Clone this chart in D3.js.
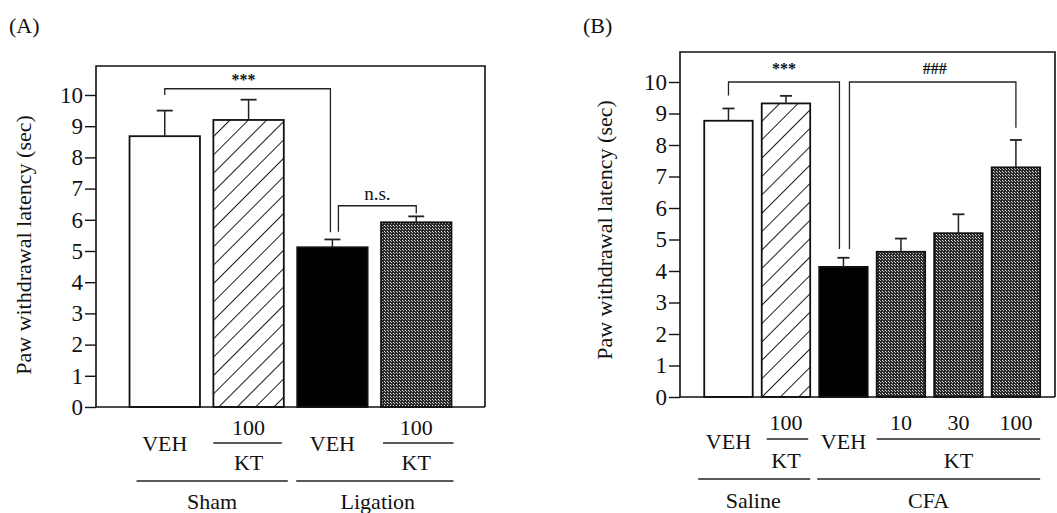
<!DOCTYPE html>
<html>
<head>
<meta charset="utf-8">
<script src="https://cdn.jsdelivr.net/npm/d3@7"></script>
<style>
  html, body { margin: 0; padding: 0; background: #fff; }
  text { font-family: "Liberation Serif", "Times New Roman", serif; fill: #111; }
</style>
</head>
<body>
<div id="chart"></div>
<script>
// panel A : nerve ligation
const meansA = [8.68, 9.2, 5.12, 5.92];
const errA = [0.82, 0.65, 0.25, 0.19];
const fillsA = ["white", "hatch", "black", "dots"];
const doseA = ["VEH", "100", "VEH", "100"];
const groupsA = ["Sham", "Ligation"];

// panel B : CFA inflammation
const meansB = [8.77, 9.32, 4.13, 4.61, 5.2, 7.29];
const errB = [0.39, 0.24, 0.29, 0.42, 0.6, 0.87];
const fillsB = ["white", "hatch", "black", "dots", "dots", "dots"];
const doseB = ["VEH", "100", "VEH", "10", "30", "100"];
const groupsB = ["Saline", "CFA"];

const yTicks = d3.range(0, 11);

const W = 1057, H = 513;
const svg = d3.select("#chart").append("svg")
  .attr("width", W).attr("height", H)
  .style("background", "#fff");

const defs = svg.append("defs");
const hatch = defs.append("pattern")
  .attr("id", "hatch")
  .attr("patternUnits", "userSpaceOnUse")
  .attr("width", 13).attr("height", 13)
  .attr("patternTransform", "rotate(45)");
hatch.append("rect").attr("width", 13).attr("height", 13).attr("fill", "#fff");
hatch.append("line")
  .attr("x1", 0).attr("y1", 0).attr("x2", 0).attr("y2", 13)
  .attr("stroke", "#111").attr("stroke-width", 1.9);

const dots = defs.append("pattern")
  .attr("id", "dots")
  .attr("patternUnits", "userSpaceOnUse")
  .attr("width", 3).attr("height", 3);
dots.append("rect").attr("width", 3).attr("height", 3).attr("fill", "#2a2a2a");
dots.append("rect").attr("x", 0).attr("y", 0).attr("width", 1).attr("height", 1).attr("fill", "#e8e8e8");
dots.append("rect").attr("x", 1).attr("y", 1).attr("width", 1).attr("height", 1).attr("fill", "#bbb");

const fillOf = f => f === "hatch" ? "url(#hatch)" : f === "dots" ? "url(#dots)" : f;

function drawPanel(p) {
  const g = svg.append("g");

  const x = d3.scaleBand()
    .domain(d3.range(p.means.length))
    .range([p.left, p.right])
    .paddingInner(p.inner)
    .paddingOuter(p.outer)
    .align(p.align);
  const y = d3.scaleLinear().domain([0, 10]).range([p.bottom, p.y10]);
  const bw = x.bandwidth();
  const cx = i => x(i) + bw / 2;

  // panel letter
  g.append("text").attr("x", p.letterX).attr("y", 33)
    .style("font-size", "22px").text(p.letter);

  // frame
  g.append("path")
    .attr("d", `M${p.left},${p.bottom}V${p.top}H${p.right}V${p.bottom}`)
    .attr("fill", "none").attr("stroke", "#111").attr("stroke-width", 1.6);

  // bars
  g.selectAll("rect.bar").data(p.means).join("rect")
    .attr("class", "bar")
    .attr("x", (d, i) => x(i))
    .attr("y", d => y(d))
    .attr("width", bw)
    .attr("height", d => y(0) - y(d))
    .attr("fill", (d, i) => fillOf(p.fills[i]))
    .attr("stroke", "#111").attr("stroke-width", 1.8);

  // error bars (upper only)
  const eb = g.selectAll("g.err").data(p.means).join("g").attr("class", "err");
  eb.append("line")
    .attr("x1", (d, i) => cx(i)).attr("x2", (d, i) => cx(i))
    .attr("y1", d => y(d)).attr("y2", (d, i) => y(d + p.err[i]))
    .attr("stroke", "#222").attr("stroke-width", 1.5);
  eb.append("line")
    .attr("x1", (d, i) => cx(i) - p.cap).attr("x2", (d, i) => cx(i) + p.cap)
    .attr("y1", (d, i) => y(d + p.err[i])).attr("y2", (d, i) => y(d + p.err[i]))
    .attr("stroke", "#222").attr("stroke-width", 1.8);

  // y axis
  const ax = g.append("g")
    .attr("transform", `translate(${p.left},0)`)
    .call(d3.axisLeft(y).tickValues(yTicks).tickFormat(d3.format("d")).tickSize(11).tickPadding(2));
  ax.select(".domain").remove();
  ax.selectAll("line").attr("stroke", "#111").attr("stroke-width", 1.4);
  ax.selectAll("text")
    .style("font-family", "'Liberation Serif', serif")
    .style("font-size", "23px").attr("fill", "#111");
  // baseline
  g.append("line").attr("x1", p.left).attr("x2", p.right)
    .attr("y1", p.bottom).attr("y2", p.bottom)
    .attr("stroke", "#111").attr("stroke-width", 1.6);

  g.append("text")
    .attr("transform", `translate(${p.titleX},${p.titleY}) rotate(-90)`)
    .attr("text-anchor", "middle")
    .style("font-size", "22px")
    .text("Paw withdrawal latency (sec)");

  // brackets
  p.brackets.forEach(b => {
    const xa = cx(b.from) + b.dxa, xb = cx(b.to) + b.dxb;
    g.append("path")
      .attr("d", `M${xa},${y(b.ya)}V${y(b.y)}H${xb}V${y(b.yb)}`)
      .attr("fill", "none").attr("stroke", "#222").attr("stroke-width", 1.3);
    g.append("text")
      .attr("x", (xa + xb) / 2 + (b.tdx || 0)).attr("y", y(b.y) - b.tdy)
      .attr("text-anchor", "middle")
      .style("font-size", b.size + "px").style("font-weight", b.bold ? "bold" : "normal")
      .text(b.label);
  });

  // category labels
  const lab = (tx, ty, t, size) => g.append("text")
    .attr("x", tx).attr("y", ty).attr("text-anchor", "middle")
    .attr("dominant-baseline", "central")
    .style("font-size", (size || 22) + "px").text(t);
  const hline = (x1, x2, yy) => g.append("line")
    .attr("x1", x1).attr("x2", x2).attr("y1", yy).attr("y2", yy)
    .attr("stroke", "#222").attr("stroke-width", 1.3);

  p.dose.forEach((d, i) => {
    if (d === "VEH") lab(cx(i), p.bottom + p.oVeh, d);
    else lab(cx(i), p.bottom + p.oDose, d);
  });
  p.kt.forEach(k => {
    hline(x(k[0]) + k[2], x(k[1]) + bw + k[3], p.bottom + p.oLine);
    lab((x(k[0]) + x(k[1]) + bw) / 2 + (k[4] || 0), p.bottom + p.oKT, "KT");
  });
  p.groups.forEach((gr, j) => {
    const s = p.groupSpans[j];
    const x1 = x(s[0]) + s[2], x2 = x(s[1]) + bw + s[3];
    hline(x1, x2, p.bottom + p.oGroup);
    lab((x1 + x2) / 2 + (s[4] || 0), p.bottom + p.oGroupLab, gr);
  });
}

drawPanel({
  letter: "(A)", letterX: 9,
  means: meansA, err: errA, fills: fillsA, dose: doseA, groups: groupsA,
  left: 96, right: 485, top: 66, bottom: 407, y10: 95,
  inner: 0.16, outer: 0.4, align: 0.5, cap: 8,
  titleX: 31, titleY: 245,
  brackets: [
    { from: 0, to: 2, dxa: 0, dxb: -2, y: 10.2, ya: 10.0, yb: 5.6, label: "***", size: 16, bold: true, tdy: 4, tdx: -4 },
    { from: 2, to: 3, dxa: 6, dxb: 0, y: 6.45, ya: 5.62, yb: 6.2, label: "n.s.", size: 19, tdy: 6 }
  ],
  kt: [[1, 1, 0, -2], [3, 3, 2, 2]],
  groupSpans: [[0, 1, 7, 4], [2, 3, -1, 2, 3]],
  oVeh: 36, oDose: 20, oLine: 36, oKT: 55, oGroup: 74, oGroupLab: 94
});

drawPanel({
  letter: "(B)", letterX: 583,
  means: meansB, err: errB, fills: fillsB, dose: doseB, groups: groupsB,
  left: 680, right: 1055, top: 52, bottom: 397, y10: 82,
  inner: 0.157, outer: 0.34, align: 0.62, cap: 6,
  titleX: 612, titleY: 230,
  brackets: [
    { from: 0, to: 2, dxa: 0, dxb: -4, y: 10.0, ya: 9.57, yb: 4.7, label: "***", size: 16, bold: true, tdy: 8 },
    { from: 2, to: 5, dxa: 6, dxb: 0, y: 10.0, ya: 4.7, yb: 8.55, label: "###", size: 16, bold: true, tdy: 8, tdx: 2 }
  ],
  kt: [[1, 1, 5, -2], [3, 5, 0, 0]],
  groupSpans: [[0, 1, -6, 0, -1], [2, 5, -2, 0]],
  oVeh: 44, oDose: 25, oLine: 42, oKT: 63, oGroup: 82, oGroupLab: 103
});
</script>
</body>
</html>
